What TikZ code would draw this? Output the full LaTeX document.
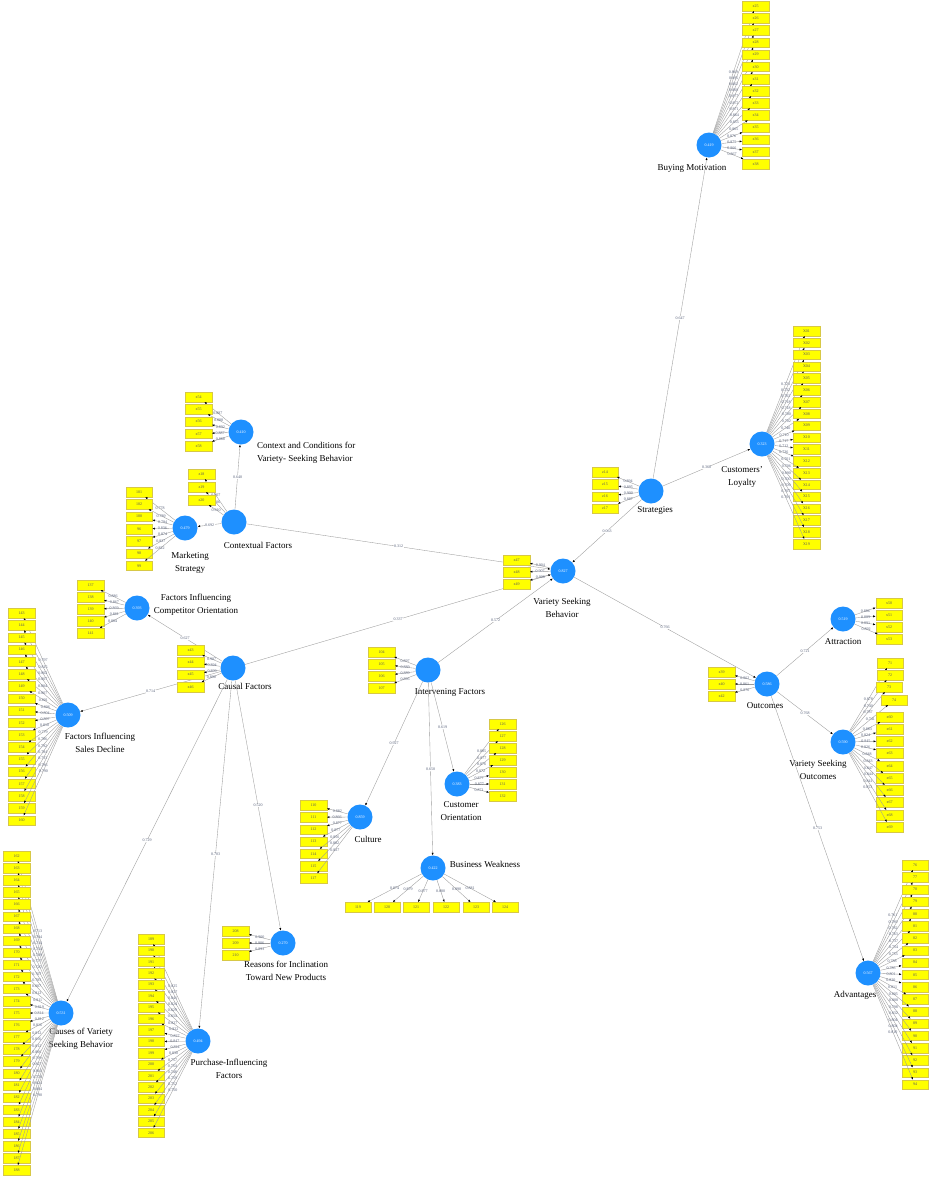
\documentclass[tikz,border=0pt]{standalone}
\usepackage{fontspec}
\setmainfont{Liberation Serif}
\usetikzlibrary{arrows.meta}

\definecolor{lvblue}{RGB}{30,144,255}
\definecolor{mvyellow}{RGB}{255,255,0}
\definecolor{mvedge}{RGB}{215,200,70}
\definecolor{wiregray}{RGB}{155,155,155}
\definecolor{numgray}{RGB}{85,95,120}

\tikzset{
  lv/.style={circle,fill=lvblue,minimum size=25pt,inner sep=0pt,text=white,font=\fontsize{4}{4.5}\selectfont},
  mv/.style={rectangle,fill=mvyellow,draw=mvedge,line width=0.3pt,minimum width=26.5pt,minimum height=9.5pt,inner sep=0pt,text=black!65,font=\fontsize{4}{4.5}\selectfont},
  lvname/.style={align=center,inner sep=0pt,font=\fontsize{9}{13.5}\selectfont},
  wire/.style={draw=wiregray,line width=0.35pt,-{Latex[length=2.5pt,width=2pt,color=black]}},
  ldval/.style={inner sep=0.3pt,text=numgray,font=\fontsize{4}{4.5}\selectfont},
  pcval/.style={fill=white,inner sep=0.5pt,text=numgray,font=\fontsize{4}{4.5}\selectfont}
}

\begin{document}
\begin{tikzpicture}[x=1pt,y=-1pt]
\useasboundingbox (0,0) rectangle (930,1178);
\fill[white] (0,0) rectangle (930,1178);

% latent variables
\node[lv] (bm) at (709,145) {0.419};
\node[lv] (cl) at (762,444) {0.323};
\node[lv] (st) at (651,491) {};
\node[lv] (vsb) at (563,571) {0.827};
\node[lv] (cx) at (234,522) {};
\node[lv] (cc) at (241,432) {0.410};
\node[lv] (ms) at (185,528) {0.479};
\node[lv] (ca) at (233,668) {};
\node[lv] (fco) at (137,608) {0.393};
\node[lv] (fsd) at (68,715) {0.509};
\node[lv] (cvs) at (61,1013) {0.531};
\node[lv] (pif) at (198,1041) {0.494};
\node[lv] (rin) at (283,943) {0.270};
\node[lv] (itv) at (428,670) {};
\node[lv] (cu) at (360,817) {0.859};
\node[lv] (co) at (457,784) {0.383};
\node[lv] (bw) at (433,868) {0.422};
\node[lv] (oc) at (767,684) {0.586};
\node[lv] (at) at (843,619) {0.519};
\node[lv] (vso) at (843,742) {0.590};
\node[lv] (adv) at (868,973) {0.567};

\node[lvname] (bm-t) at (692,168) {Buying Motivation};
\node[lvname] (cl-t) at (742,477) {Customers'\\Loyalty};
\node[lvname] (st-t) at (655,510) {Strategies};
\node[lvname] (vsb-t) at (562,608) {Variety Seeking\\Behavior};
\node[lvname,anchor=west,align=left] (cc-t) at (257,453) {Context and Conditions for\\Variety- Seeking Behavior};
\node[lvname] (cx-t) at (258,545) {Contextual Factors};
\node[lvname] (ms-t) at (190,563) {Marketing\\Strategy};
\node[lvname] (fco-t) at (196,605) {Factors Influencing\\Competitor Orientation};
\node[lvname] (ca-t) at (245,686) {Causal Factors};
\node[lvname] (fsd-t) at (100,743) {Factors Influencing\\Sales Decline};
\node[lvname] (cvs-t) at (81,1039) {Causes of Variety\\Seeking Behavior};
\node[lvname] (pif-t) at (229,1069) {Purchase-Influencing\\Factors};
\node[lvname] (rin-t) at (286,971) {Reasons for Inclination\\Toward New Products};
\node[lvname] (itv-t) at (450,692) {Intervening Factors};
\node[lvname] (cu-t) at (368,839) {Culture};
\node[lvname] (co-t) at (461,811) {Customer\\Orientation};
\node[lvname] (bw-t) at (485,864) {Business Weakness};
\node[lvname] (oc-t) at (765,706) {Outcomes};
\node[lvname] (at-t) at (843,642) {Attraction};
\node[lvname] (vso-t) at (818,770) {Variety Seeking\\Outcomes};
\node[lvname] (adv-t) at (855,995) {Advantages};

% inner model
\draw[wire] (st) -- node[pcval] {0.647} (bm);
\draw[wire] (st) -- node[pcval] {0.368} (cl);
\draw[wire] (st) -- node[pcval] {0.063} (vsb);
\draw[wire] (cx) -- node[pcval] {0.312} (vsb);
\draw[wire] (cx) -- node[pcval] {0.640} (cc);
\draw[wire] (cx) -- node[pcval] {0.692} (ms);
\draw[wire] (ca) -- node[pcval] {0.337} (vsb);
\draw[wire] (ca) -- node[pcval] {0.627} (fco);
\draw[wire] (ca) -- node[pcval] {0.714} (fsd);
\draw[wire] (ca) -- node[pcval] {0.729} (cvs);
\draw[wire] (ca) -- node[pcval] {0.703} (pif);
\draw[wire] (ca) -- node[pcval] {0.520} (rin);
\draw[wire] (itv) -- node[pcval] {0.572} (vsb);
\draw[wire] (itv) -- node[pcval] {0.927} (cu);
\draw[wire] (itv) -- node[pcval] {0.619} (co);
\draw[wire] (itv) -- node[pcval] {0.650} (bw);
\draw[wire] (vsb) -- node[pcval] {0.766} (oc);
\draw[wire] (oc) -- node[pcval] {0.721} (at);
\draw[wire] (oc) -- node[pcval] {0.768} (vso);
\draw[wire] (oc) -- node[pcval] {0.753} (adv);

% outer model
\foreach \m/\l [count=\i] in {x25/0.869,x26/0.895,x27/0.862,x28/0.868,x29/0.877,x30/0.872,x31/0.871,x32/0.864,x33/0.855,x34/0.865,x35/0.876,x36/0.875,x37/0.866,x38/0.867} {
\node[mv] (bm\i) at (755.5,{6+(\i-1)*12.15}) {\m};
\draw[wire] (bm) -- node[ldval] {\l} (bm\i);
}
\foreach \m/\l [count=\i] in {X01/0.723,X02/0.732,X03/0.702,X04/0.718,X05/0.718,X06/0.700,X07/0.702,X08/0.740,X09/0.710,X10/0.717,X11/0.712,X12/0.736,X13/0.701,X14/0.706,X15/0.690,X16/0.700,X17/0.709,X18/0.707,X19/0.701} {
\node[mv] (cl\i) at (806.5,{331+(\i-1)*11.83}) {\m};
\draw[wire] (cl) -- node[ldval] {\l} (cl\i);
}
\foreach \m/\l [count=\i] in {z14/0.894,z15/0.895,z16/0.900,z17/0.887} {
\node[mv] (st\i) at (605,{472+(\i-1)*12.2}) {\m};
\draw[wire] (st) -- node[ldval] {\l} (st\i);
}
\foreach \m/\l [count=\i] in {x47/0.904,x48/0.907,x49/0.908} {
\node[mv] (vsb\i) at (516.5,{560+(\i-1)*12}) {\m};
\draw[wire] (vsb) -- node[ldval] {\l} (vsb\i);
}
\foreach \m/\l [count=\i] in {z18/0.907,z19/0.906,z20/0.910} {
\node[mv] (cx\i) at (201.5,{474+(\i-1)*13}) {\m};
\draw[wire] (cx) -- node[ldval] {\l} (cx\i);
}
\foreach \m/\l [count=\i] in {x54/0.887,x55/0.888,x56/0.892,x57/0.887,x58/0.888} {
\node[mv] (cc\i) at (198.5,{397+(\i-1)*12.25}) {\m};
\draw[wire] (cc) -- node[ldval] {\l} (cc\i);
}
\foreach \m/\l [count=\i] in {101/0.778,102/0.789,100/0.794,96/0.836,97/0.874,98/0.827,99/0.822} {
\node[mv] (ms\i) at (139,{492+(\i-1)*12.3}) {\m};
\draw[wire] (ms) -- node[ldval] {\l} (ms\i);
}
\foreach \m/\l [count=\i] in {x43/0.907,x44/0.894,x45/0.899,x46/0.890} {
\node[mv] (ca\i) at (190.5,{650+(\i-1)*12.3}) {\m};
\draw[wire] (ca) -- node[ldval] {\l} (ca\i);
}
\foreach \m/\l [count=\i] in {137/0.886,138/0.867,139/0.869,140/0.861,141/0.884} {
\node[mv] (fco\i) at (90.5,{585+(\i-1)*12}) {\m};
\draw[wire] (fco) -- node[ldval] {\l} (fco\i);
}
\foreach \m/\l [count=\i] in {143/0.797,144/0.815,145/0.802,146/0.807,147/0.804,148/0.807,149/0.801,150/0.806,151/0.804,152/0.807,153/0.810,154/0.779,155/0.786,156/0.792,157/0.784,158/0.733,159/0.786,160/0.790} {
\node[mv] (fsd\i) at (21.5,{613+(\i-1)*12.2}) {\m};
\draw[wire] (fsd) -- node[ldval] {\l} (fsd\i);
}
\foreach \m/\l [count=\i] in {162/0.713,163/0.764,164/0.714,165/0.754,166/0.769,167/0.777,168/0.720,169/0.707,170/0.785,171/0.807,172/0.812,173/0.811,174/0.819,175/0.814,176/0.812,177/0.816,178/0.812,179/0.816,180/0.812,181/0.806,182/0.799,183/0.827,184/0.810,185/0.778,186/0.824,187/0.884,188/0.790} {
\node[mv] (cvs\i) at (16.5,{856+(\i-1)*12.08}) {\m};
\draw[wire] (cvs) -- node[ldval] {\l} (cvs\i);
}
\foreach \m/\l [count=\i] in {189/0.825,190/0.827,191/0.841,192/0.824,193/0.829,194/0.834,195/0.827,196/0.822,197/0.827,198/0.847,199/0.824,200/0.830,201/0.757,202/0.754,203/0.748,204/0.759,205/0.752,206/0.750} {
\node[mv] (pif\i) at (151,{939+(\i-1)*11.4}) {\m};
\draw[wire] (pif) -- node[ldval] {\l} (pif\i);
}
\foreach \m/\l [count=\i] in {208/0.900,209/0.906,210/0.893} {
\node[mv] (rin\i) at (235.5,{931+(\i-1)*12}) {\m};
\draw[wire] (rin) -- node[ldval] {\l} (rin\i);
}
\foreach \m/\l [count=\i] in {104/0.897,105/0.889,106/0.889,107/0.896} {
\node[mv] (itv\i) at (381.5,{652+(\i-1)*12}) {\m};
\draw[wire] (itv) -- node[ldval] {\l} (itv\i);
}
\foreach \m/\l [count=\i] in {110/0.882,111/0.866,112/0.877,113/0.877,114/0.856,115/0.882,117/0.827} {
\node[mv] (cu\i) at (313.5,{805+(\i-1)*12.2}) {\m};
\draw[wire] (cu) -- node[ldval] {\l} (cu\i);
}
\foreach \m/\l [count=\i] in {126/0.885,127/0.877,128/0.876,129/0.872,130/0.877,131/0.877,132/0.871} {
\node[mv] (co\i) at (502.5,{724+(\i-1)*12}) {\m};
\draw[wire] (co) -- node[ldval] {\l} (co\i);
}
\foreach \m/\l/\xx [count=\i] in {119/0.874/358,120/0.879/387,121/0.877/416,122/0.880/446,123/0.890/476,124/0.881/505} {
\node[mv] (bw\i) at (\xx,907) {\m};
\draw[wire] (bw) -- node[ldval] {\l} (bw\i);
}
\foreach \m/\l [count=\i] in {x39/0.862,x40/0.861,x42/0.870} {
\node[mv] (oc\i) at (721.5,{672+(\i-1)*12}) {\m};
\draw[wire] (oc) -- node[ldval] {\l} (oc\i);
}
\foreach \m/\l [count=\i] in {x50/0.886,x51/0.889,x52/0.891,x53/0.892} {
\node[mv] (at\i) at (889,{603+(\i-1)*12}) {\m};
\draw[wire] (at) -- node[ldval] {\l} (at\i);
}
\foreach \m/\l/\xx/\yy [count=\i] in {71/0.878/890/663,72/0.740/890/675,73/0.787/889/687,74/0.741/894/700,x60/0.883/889.5/717,x61/0.824/889.5/729,x62/0.845/889.5/741,x63/0.826/889.5/753,x64/0.848/889.5/766,x65/0.843/889.5/778,x66/0.847/889.5/790,x67/0.844/889.5/802,x68/0.841/889.5/815,x69/0.853/889.5/827} {
\node[mv] (vso\i) at (\xx,\yy) {\m};
\draw[wire] (vso) -- node[ldval] {\l} (vso\i);
}
\foreach \m/\l [count=\i] in {76/0.761,77/0.789,78/0.782,79/0.763,80/0.737,81/0.754,82/0.755,83/0.788,84/0.785,85/0.801,86/0.820,87/0.811,88/0.805,89/0.808,90/0.798,91/0.832,92/0.804,93/0.804,94/0.810} {
\node[mv] (adv\i) at (915,{865+(\i-1)*12.2}) {\m};
\draw[wire] (adv) -- node[ldval] {\l} (adv\i);
}
\end{tikzpicture}
\end{document}
